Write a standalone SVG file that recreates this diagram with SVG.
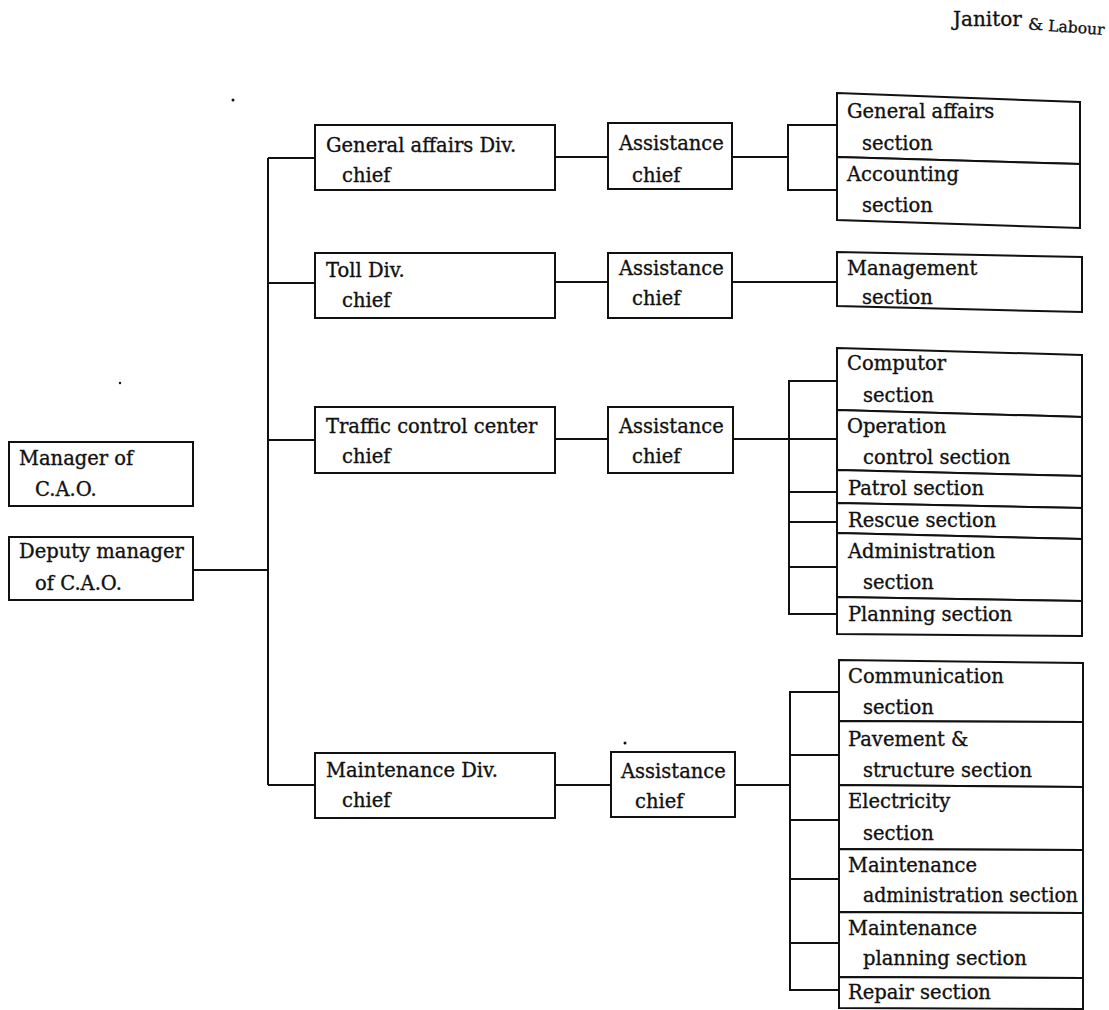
<svg xmlns="http://www.w3.org/2000/svg" width="1109" height="1010" viewBox="0 0 1109 1010">
  <style>
    .box { fill: #fff; stroke: #111; stroke-width: 2; }
    .wire { fill: none; stroke: #111; stroke-width: 2; }
    text { font-family: "DejaVu Serif", "Liberation Serif", serif; font-size: 19.5px; fill: #111; stroke: #111; stroke-width: 0.35px; }
    .speck { fill: #111; }
  </style>
  <rect width="1109" height="1010" fill="#fff"/>

  <!-- heading -->
  <g id="janitor">
    <text x="953" y="26" style="font-size:20px">Janitor</text>
    <text x="1028" y="30" style="font-size:17px">&amp;</text>
    <text x="1048" y="31" style="font-size:15.5px" transform="rotate(4 1048 31)">Labour</text>
  </g>

  <!-- connectors -->
  <g id="connectors" class="wire">
    <path d="M193 570 H268"/>
    <path d="M268 158 V785"/>
    <path d="M268 158 H315 M268 283 H315 M268 440 H315 M268 785 H315"/>
    <path d="M555 157 H608 M555 282 H608 M555 439 H608 M555 785 H611"/>
    <!-- general affairs sections -->
    <path d="M732 157 H788 M837 125 H788 V190 H837"/>
    <!-- toll sections -->
    <path d="M732 282 H837"/>
    <!-- traffic control sections -->
    <path d="M733 439 H837 M837 381 H789 V614 H837 M789 492 H837 M789 522 H837 M789 567 H837"/>
    <!-- maintenance sections -->
    <path d="M735 785 H790 M839 692 H790 V990 H839 M790 755 H839 M790 820 H839 M790 879 H839 M790 943 H839"/>
  </g>

  <!-- top level -->
  <g id="manager">
    <rect class="box" x="9" y="442" width="184" height="64"/>
    <text x="19" y="465">Manager of</text>
    <text x="35" y="496">C.A.O.</text>
  </g>
  <g id="deputy">
    <rect class="box" x="9" y="537" width="184" height="63"/>
    <text x="19" y="558">Deputy manager</text>
    <text x="35" y="590">of C.A.O.</text>
  </g>

  <!-- division chiefs -->
  <g id="div-general">
    <rect class="box" x="315" y="125" width="240" height="65"/>
    <text x="326" y="152">General affairs Div.</text>
    <text x="342" y="182">chief</text>
  </g>
  <g id="div-toll">
    <rect class="box" x="315" y="253" width="240" height="65"/>
    <text x="326" y="277">Toll Div.</text>
    <text x="342" y="307">chief</text>
  </g>
  <g id="div-traffic">
    <rect class="box" x="315" y="407" width="240" height="66"/>
    <text x="326" y="433">Traffic control center</text>
    <text x="342" y="463">chief</text>
  </g>
  <g id="div-maintenance">
    <rect class="box" x="315" y="753" width="240" height="65"/>
    <text x="326" y="777">Maintenance Div.</text>
    <text x="342" y="807">chief</text>
  </g>

  <!-- assistance chiefs -->
  <g id="asst-general">
    <rect class="box" x="608" y="123" width="124" height="66"/>
    <text x="619" y="150">Assistance</text>
    <text x="632" y="182">chief</text>
  </g>
  <g id="asst-toll">
    <rect class="box" x="608" y="253" width="124" height="65"/>
    <text x="619" y="275">Assistance</text>
    <text x="632" y="305">chief</text>
  </g>
  <g id="asst-traffic">
    <rect class="box" x="608" y="407" width="125" height="66"/>
    <text x="619" y="433">Assistance</text>
    <text x="632" y="463">chief</text>
  </g>
  <g id="asst-maintenance">
    <rect class="box" x="611" y="752" width="124" height="65"/>
    <text x="621" y="778">Assistance</text>
    <text x="635" y="808">chief</text>
  </g>

  <!-- sections: general affairs -->
  <g id="sec-general-affairs">
    <polygon class="box" points="837,93 1080,102 1080,164 837,157"/>
    <text x="847" y="118">General affairs</text>
    <text x="862" y="150">section</text>
  </g>
  <g id="sec-accounting">
    <polygon class="box" points="837,157 1080,164 1080,228 837,220"/>
    <text x="847" y="181">Accounting</text>
    <text x="862" y="212">section</text>
  </g>

  <!-- sections: toll -->
  <g id="sec-management">
    <polygon class="box" points="837,252 1082,257 1082,312 837,306"/>
    <text x="847" y="275">Management</text>
    <text x="862" y="304">section</text>
  </g>

  <!-- sections: traffic control -->
  <g id="sec-computor">
    <polygon class="box" points="837,348 1082,355 1082,417 837,410"/>
    <text x="847" y="370">Computor</text>
    <text x="863" y="402">section</text>
  </g>
  <g id="sec-operation">
    <polygon class="box" points="837,410 1082,417 1082,476 837,470"/>
    <text x="847" y="433">Operation</text>
    <text x="863" y="464">control section</text>
  </g>
  <g id="sec-patrol">
    <polygon class="box" points="837,470 1082,476 1082,508 837,503"/>
    <text x="848" y="495">Patrol section</text>
  </g>
  <g id="sec-rescue">
    <polygon class="box" points="837,503 1082,508 1082,539 837,533"/>
    <text x="848" y="527">Rescue section</text>
  </g>
  <g id="sec-administration">
    <polygon class="box" points="837,533 1082,539 1082,601 837,597"/>
    <text x="848" y="558">Administration</text>
    <text x="863" y="589">section</text>
  </g>
  <g id="sec-planning">
    <polygon class="box" points="837,597 1082,601 1082,636 837,634"/>
    <text x="848" y="621">Planning section</text>
  </g>

  <!-- sections: maintenance -->
  <g id="sec-communication">
    <polygon class="box" points="839,660 1083,663 1083,722 839,721"/>
    <text x="848" y="683">Communication</text>
    <text x="863" y="714">section</text>
  </g>
  <g id="sec-pavement">
    <polygon class="box" points="839,721 1083,722 1083,787 839,785"/>
    <text x="848" y="746">Pavement &amp;</text>
    <text x="863" y="777">structure section</text>
  </g>
  <g id="sec-electricity">
    <polygon class="box" points="839,785 1083,787 1083,850 839,849"/>
    <text x="848" y="808">Electricity</text>
    <text x="863" y="840">section</text>
  </g>
  <g id="sec-maint-admin">
    <polygon class="box" points="839,849 1083,850 1083,913 839,912"/>
    <text x="848" y="872">Maintenance</text>
    <text x="863" y="902" textLength="215" lengthAdjust="spacingAndGlyphs">administration section</text>
  </g>
  <g id="sec-maint-planning">
    <polygon class="box" points="839,912 1083,913 1083,978 839,977"/>
    <text x="848" y="935">Maintenance</text>
    <text x="863" y="965">planning section</text>
  </g>
  <g id="sec-repair">
    <polygon class="box" points="839,977 1083,978 1083,1009 839,1008"/>
    <text x="848" y="999">Repair section</text>
  </g>

  <!-- loose ink specks -->
  <circle class="speck" cx="233" cy="100" r="1.5"/>
  <circle class="speck" cx="120" cy="383" r="1.2"/>
  <circle class="speck" cx="625" cy="743" r="1.5"/>
</svg>
